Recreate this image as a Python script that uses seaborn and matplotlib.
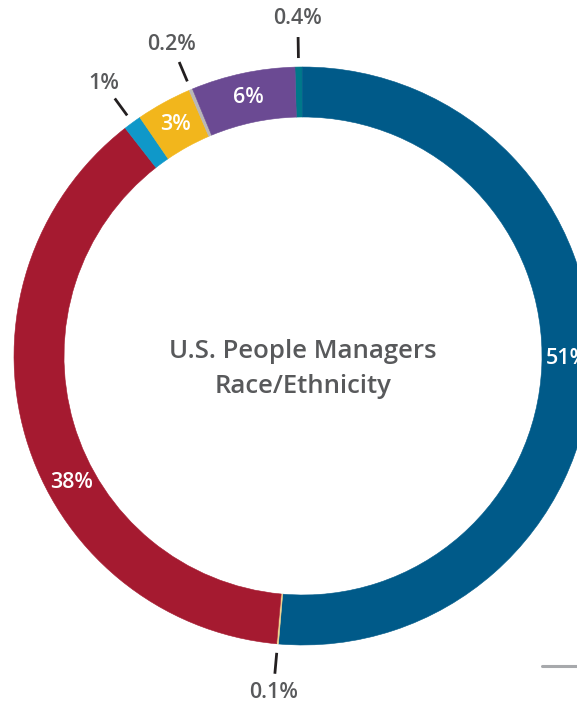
import numpy as np
import matplotlib
matplotlib.use("Agg")
import matplotlib.pyplot as plt
import seaborn as sns

sns.set_style("white")
plt.rcParams['font.family'] = ['Open Sans', 'DejaVu Sans']

# ── data (clockwise from 12 o'clock) ────────────────────────────────
groups = ["Native Hawaiian / Pacific Islander", "White", "American Indian / Alaska Native",
          "Asian", "Two or more races", "Hispanic / Latino", "Other", "Black / African American"]
shares = [0.4, 51.4, 0.1, 38.0, 1.0, 3.1, 0.2, 5.8]
pct_labels = ["0.4%", "51%", "0.1%", "38%", "1%", "3%", "0.2%", "6%"]
inside = [False, True, False, True, False, True, False, True]
colors = ["#00788a", "#005a89", "#f1d48e", "#a51a30", "#0f98c9", "#f2b61c", "#b9b7b8", "#6b4a93"]
title = "U.S. People Managers\nRace/Ethnicity"

# ── layout (pixel units) ────────────────────────────────────────────
W, H = 577, 704
cx, cy = 303, H - 356
R_out, ring = 289, 50
label_shift = {"38%": 0.09, "51%": 0.01}   # nudge along the wedge, fraction of its span

fig = plt.figure(figsize=(W / 100, H / 100), dpi=100)
ax = fig.add_axes([0, 0, 1, 1])
ax.set_xlim(0, W)
ax.set_ylim(0, H)
ax.axis('off')

wedges, _ = ax.pie(shares, colors=colors, startangle=91.6, counterclock=False,
                   radius=R_out, center=(cx, cy), normalize=True,
                   wedgeprops=dict(width=ring, linewidth=0))
for w in wedges:
    w.set_edgecolor(w.get_facecolor())
    w.set_linewidth(0.4)
ax.set_xlim(0, W)
ax.set_ylim(0, H)
ax.set_aspect('equal')

r_mid = R_out - ring / 2
for w, lab, ins in zip(wedges, pct_labels, inside):
    frac = 0.5 + label_shift.get(lab, 0)
    ang = np.deg2rad(w.theta1 + (w.theta2 - w.theta1) * frac)
    ux, uy = np.cos(ang), np.sin(ang)
    if ins:
        ax.text(cx + r_mid * ux, cy + r_mid * uy, lab, color='white', fontsize=15.5,
                fontweight='semibold', ha='center', va='center')
    else:
        ax.plot([cx + 298 * ux, cx + 319 * ux], [cy + 298 * uy, cy + 319 * uy],
                color='#231f20', lw=2, solid_capstyle='butt')
        ax.text(cx + 338 * ux, cy + 338 * uy, lab, color='#58595b', fontsize=15.5,
                fontweight='semibold', ha='center', va='center')

ax.text(cx, H - 369, title, color='#58595b', fontsize=18.5, fontweight='semibold',
        ha='center', va='center', linespacing=1.5)

# small rule at bottom right
ax.plot([542, W], [H - 666, H - 666], color='#a7a9ac', lw=2.2)

fig.savefig("out.png", dpi=100)
